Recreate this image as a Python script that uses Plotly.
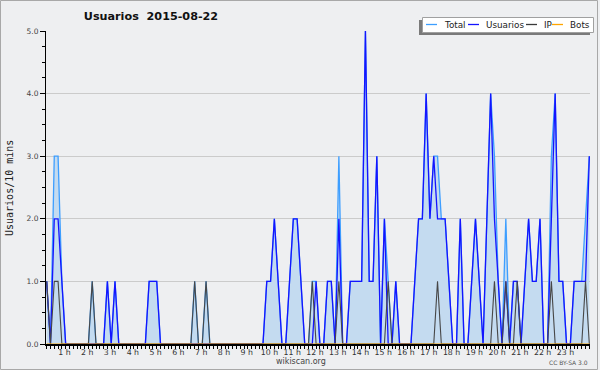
import plotly.graph_objects as go

# 10-minute slots of 2015-08-22 (144 slots, index 0 = 00:00)
slots = list(range(144))

usuarios = [
    1, 0, 2, 2, 1, 0, 0, 0, 0, 0, 0, 0,
    0, 0, 0, 0, 1, 0, 1, 0, 0, 0, 0, 0,
    0, 0, 0, 1, 1, 1, 0, 0, 0, 0, 0, 0,
    0, 0, 0, 0, 0, 0, 0, 0, 0, 0, 0, 0,
    0, 0, 0, 0, 0, 0, 0, 0, 0, 0, 1, 1,
    2, 1, 0, 0, 1, 2, 2, 1, 0, 0, 0, 1,
    0, 0, 1, 1, 0, 2, 0, 0, 1, 1, 1, 1,
    5, 1, 1, 3, 0, 2, 0, 0, 1, 0, 0, 0,
    0, 1, 2, 2, 4, 2, 3, 2, 2, 2, 1, 0,
    0, 2, 0, 0, 1, 2, 1, 0, 2, 4, 2, 1,
    0, 1, 0, 1, 1, 0, 1, 2, 1, 1, 2, 0,
    0, 2, 4, 1, 1, 0, 0, 1, 1, 1, 1, 3,
]

ip = [
    1, 0, 1, 1, 0, 0, 0, 0, 0, 0, 0, 0,
    1, 0, 0, 0, 0, 0, 0, 0, 0, 0, 0, 0,
    0, 0, 0, 0, 0, 0, 0, 0, 0, 0, 0, 0,
    0, 0, 0, 1, 0, 0, 1, 0, 0, 0, 0, 0,
    0, 0, 0, 0, 0, 0, 0, 0, 0, 0, 0, 0,
    0, 0, 0, 0, 0, 0, 0, 0, 0, 0, 1, 0,
    0, 0, 0, 0, 0, 1, 0, 0, 0, 0, 0, 0,
    0, 0, 0, 0, 0, 0, 1, 0, 0, 0, 0, 0,
    0, 0, 0, 0, 0, 0, 0, 1, 0, 0, 0, 0,
    0, 0, 0, 0, 0, 0, 0, 0, 0, 0, 1, 0,
    0, 1, 0, 0, 1, 0, 0, 0, 0, 0, 0, 0,
    0, 1, 0, 0, 0, 0, 0, 0, 0, 0, 1, 0,
]

total = [
    1, 0, 3, 3, 1, 0, 0, 0, 0, 0, 0, 0,
    1, 0, 0, 0, 1, 0, 1, 0, 0, 0, 0, 0,
    0, 0, 0, 1, 1, 1, 0, 0, 0, 0, 0, 0,
    0, 0, 0, 1, 0, 0, 1, 0, 0, 0, 0, 0,
    0, 0, 0, 0, 0, 0, 0, 0, 0, 0, 1, 1,
    2, 1, 0, 0, 1, 2, 2, 1, 0, 0, 1, 1,
    0, 0, 1, 1, 0, 3, 0, 0, 1, 1, 1, 1,
    5, 1, 1, 3, 0, 2, 1, 0, 1, 0, 0, 0,
    0, 1, 2, 2, 4, 2, 3, 3, 2, 2, 1, 0,
    0, 2, 0, 0, 1, 2, 1, 0, 2, 4, 3, 1,
    0, 2, 0, 1, 1, 0, 1, 2, 1, 1, 2, 0,
    0, 3, 4, 1, 1, 0, 0, 1, 1, 1, 2, 3,
]

bots = [
    0, 0, 0, 0, 0, 0, 0, 0, 0, 0, 0, 0,
    0, 0, 0, 0, 0, 0, 0, 0, 0, 0, 0, 0,
    0, 0, 0, 0, 0, 0, 0, 0, 0, 0, 0, 0,
    0, 0, 0, 0, 0, 0, 0, 0, 0, 0, 0, 0,
    0, 0, 0, 0, 0, 0, 0, 0, 0, 0, 0, 0,
    0, 0, 0, 0, 0, 0, 0, 0, 0, 0, 0, 0,
    0, 0, 0, 0, 0, 0, 0, 0, 0, 0, 0, 0,
    0, 0, 0, 0, 0, 0, 0, 0, 0, 0, 0, 0,
    0, 0, 0, 0, 0, 0, 0, 0, 0, 0, 0, 0,
    0, 0, 0, 0, 0, 0, 0, 0, 0, 0, 0, 0,
    0, 0, 0, 0, 0, 0, 0, 0, 0, 0, 0, 0,
    0, 0, 0, 0, 0, 0, 0, 0, 0, 0, 0, 0,
]

hour_labels = ["%d h" % h for h in range(1, 24)]
y_tick_vals = [0, 1, 2, 3, 4, 5]
y_tick_text = ["0.0", "1.0", "2.0", "3.0", "4.0", "5.0"]

series_names = ["Total", "Usuarios", "IP", "Bots"]
series_colors = ["#3d9eff", "#1414ff", "#3a3a3a", "#ffa500"]

BG = "#eeeff1"
W, H = 600, 370
L, R, T, B = 46, 10, 31, 26
PW, PH = W - L - R, H - T - B


def px(xp):
    return (xp - L) / PW


def py(yp):
    return (H - B - yp) / PH


fig = go.Figure()
fig.add_trace(go.Scatter(x=slots, y=total, name="Total", mode="lines",
                         line=dict(color=series_colors[0], width=1.3),
                         fill="tozeroy", fillcolor="#c4dbf0", showlegend=False))
fig.add_trace(go.Scatter(x=slots, y=usuarios, name="Usuarios", mode="lines",
                         line=dict(color=series_colors[1], width=1.3), showlegend=False))
fig.add_trace(go.Scatter(x=slots, y=ip, name="IP", mode="lines",
                         line=dict(color="#474747", width=1.1), showlegend=False))
fig.add_trace(go.Scatter(x=slots, y=bots, name="Bots", mode="lines",
                         line=dict(color=series_colors[3], width=1.2), showlegend=False))

label_pos = [6 * h - 1.3 for h in range(1, 24)]

fig.update_layout(
    width=W, height=H,
    margin=dict(l=L, r=R, t=T, b=B, pad=0),
    paper_bgcolor=BG, plot_bgcolor=BG,
    showlegend=False,
    title=dict(text="<b>Usuarios  2015-08-22</b>", x=151 / W, xanchor="center",
               y=1 - 16.5 / H, yanchor="middle",
               font=dict(family="DejaVu Sans", size=11.2, color="#111")),
    xaxis=dict(range=[-0.18, 143.18], showgrid=False, zeroline=False,
               showline=True, linecolor="black", linewidth=2,
               tickmode="array", tickvals=label_pos, ticktext=hour_labels,
               ticks="", tickfont=dict(family="DejaVu Sans", size=7.8, color="#333"),
               minor=dict(ticks="outside", tick0=0, dtick=1, ticklen=3,
                          tickcolor="black", tickwidth=1, showgrid=False),
               fixedrange=True),
    yaxis=dict(range=[0, 5], showgrid=True, gridcolor="#cbcbcb", gridwidth=1,
               zeroline=False, showline=True, linecolor="black", linewidth=1,
               tickmode="array", tickvals=y_tick_vals, ticktext=y_tick_text,
               ticks="outside", ticklen=5, tickcolor="black",
               tickfont=dict(family="DejaVu Sans", size=7.5, color="#444"),
               minor=dict(ticks="outside", dtick=0.25, tick0=0, ticklen=3,
                          tickcolor="black", showgrid=False),
               fixedrange=True),
)

shapes = []
annotations = []

# outer frame
shapes.append(dict(type="rect", xref="paper", yref="paper",
                   x0=px(0.5), x1=px(597.5), y0=py(0.5), y1=py(369.5),
                   line=dict(color="#a8a8a8", width=1), fillcolor="rgba(0,0,0,0)",
                   layer="above"))

# legend (shadow + box)
shapes.append(dict(type="rect", xref="paper", yref="paper",
                   x0=px(419), x1=px(590), y0=py(35), y1=py(20),
                   line=dict(width=0), fillcolor="#7a7a7a", layer="above"))
shapes.append(dict(type="rect", xref="paper", yref="paper",
                   x0=px(422.5), x1=px(593.5), y0=py(32.5), y1=py(17.5),
                   line=dict(color="#a0a0a0", width=1), fillcolor="white", layer="above"))

legend_line_x = [(426, 437), (468, 479), (526, 537), (552, 563)]
legend_text_x = [442, 484, 542, 567.5]
for name, color, (lx0, lx1), tx in zip(series_names, series_colors, legend_line_x, legend_text_x):
    shapes.append(dict(type="line", xref="paper", yref="paper",
                       x0=px(lx0), x1=px(lx1), y0=py(24.5), y1=py(24.5),
                       line=dict(color=color, width=1.3), layer="above"))
    annotations.append(dict(text=name, xref="paper", yref="paper",
                            x=px(tx), y=py(25), xanchor="left", yanchor="middle",
                            showarrow=False,
                            font=dict(family="DejaVu Sans", size=8.8, color="#222")))

# y axis title
annotations.append(dict(text="Usuarios/10 mins", xref="paper", yref="paper",
                        x=px(9.5), y=py(188.5), xanchor="center", yanchor="middle",
                        textangle=-90, showarrow=False,
                        font=dict(family="DejaVu Sans Mono", size=10, color="#222")))
# footer
annotations.append(dict(text="wikiscan.org", xref="paper", yref="paper",
                        x=px(301), y=py(361), xanchor="center", yanchor="middle",
                        showarrow=False,
                        font=dict(family="DejaVu Sans", size=8, color="#444")))
annotations.append(dict(text="CC BY-SA 3.0", xref="paper", yref="paper",
                        x=px(590), y=py(362), xanchor="right", yanchor="middle",
                        showarrow=False,
                        font=dict(family="DejaVu Sans", size=6, color="#555")))

fig.update_layout(shapes=shapes, annotations=annotations)

fig.write_html("out.html", config={"displayModeBar": False},
               post_script="document.body.style.margin='0';document.body.style.padding='0';")
